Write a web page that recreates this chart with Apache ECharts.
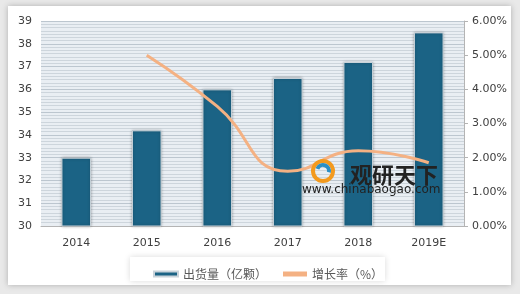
<!DOCTYPE html>
<html><head><meta charset="utf-8">
<script src="https://cdn.jsdelivr.net/npm/echarts@6/dist/echarts.min.js"></script>
<style>html,body{margin:0;padding:0;background:#e9e9e9;}#c{width:520px;height:294px;}</style>
</head><body><div id="c"></div>
<script>
const categories = ['2014','2015','2016','2017','2018','2019E'];
const shipments = [33.0, 34.2, 36.0, 36.5, 37.2, 38.5];
const growth = [null, 5.0, 3.5, 1.6, 2.2, 1.85];
const seriesNames = ['出货量（亿颗）','增长率（%）'];

const chart = echarts.init(document.getElementById('c'));
chart.setOption({
  animation: false,
  backgroundColor: 'transparent',
  graphic: [
    {type:'rect', shape:{x:8,y:6,width:503,height:279}, style:{fill:'#fff', shadowBlur:6, shadowColor:'rgba(0,0,0,0.25)'}, z:-10},
    {type:'rect', shape:{x:130,y:257,width:255,height:24}, style:{fill:'#fff', shadowBlur:6, shadowColor:'rgba(0,0,0,0.15)'}, z:-5},
    {type:'text', left:350, top:164, style:{text:'观研天下', font:'bold 22px "Noto Sans CJK SC"', fill:'#222'}, z:100},
    {type:'text', left:302, top:184, style:{text:'www.chinabaogao.com', font:'12px "DejaVu Sans"', fill:'#222'}, z:100},
    {type:'circle', shape:{cx:323,cy:171,r:10}, style:{fill:'none', stroke:'#f39a1e', lineWidth:4}, z:100},
    {type:'arc', shape:{cx:323,cy:171,r:6,startAngle:3.5,endAngle:6.5}, style:{fill:'none', stroke:'#2b8fc6', lineWidth:4}, z:100}
  ],
  grid: {left:41, right:56, top:21, bottom:68, backgroundColor:'#e9eef3', show:true, borderWidth:0},
  legend: {
    top: 263, left: 148, itemGap: 16, itemWidth: 24, itemHeight: 5,
    textStyle: {color:'#595959', fontSize:12, fontFamily:'"Noto Sans CJK SC"'},
    data: [
      {name: seriesNames[0], icon:'rect'},
      {name: seriesNames[1], icon:'rect', itemStyle:{color:'#f4b183'}}
    ]
  },
  xAxis: {
    type:'category', data: categories,
    axisLine:{lineStyle:{color:'#b4b4b4'}},
    axisTick:{show:false},
    axisLabel:{color:'#404040', fontSize:11, margin:12, fontFamily:'"DejaVu Sans"'}
  },
  yAxis: [
    {type:'value', min:30, max:39, interval:1,
     axisLine:{show:false}, axisTick:{show:false},
     axisLabel:{color:'#404040', fontSize:11, margin:9, fontFamily:'"DejaVu Sans"'},
     splitLine:{lineStyle:{color:'#bcc6cf', width:1}},
     minorTick:{show:false, splitNumber:7},
     minorSplitLine:{show:true, lineStyle:{color:'#cdd5dc', width:1}}
    },
    {type:'value', min:0, max:6, interval:1,
     axisLine:{show:true, lineStyle:{color:'#b4b4b4'}},
     axisTick:{show:true, length:4, lineStyle:{color:'#b4b4b4'}},
     axisLabel:{color:'#404040', fontSize:11, margin:8, fontFamily:'"DejaVu Sans"', formatter: v => v.toFixed(2)+'%'},
     splitLine:{show:false}
    }
  ],
  series: [
    {name: seriesNames[0], type:'bar', data: shipments, barWidth:'42%',
     itemStyle:{color:'#1b6385', borderColor:'#c9d3da', borderWidth:1, shadowBlur:3, shadowColor:'rgba(0,0,0,0.3)'}},
    {name: seriesNames[1], type:'line', yAxisIndex:1, data: growth, smooth:0.5, symbol:'none',
     lineStyle:{color:'#f4b183', width:3}, itemStyle:{color:'#f4b183'}, z:5}
  ]
});
</script></body></html>
